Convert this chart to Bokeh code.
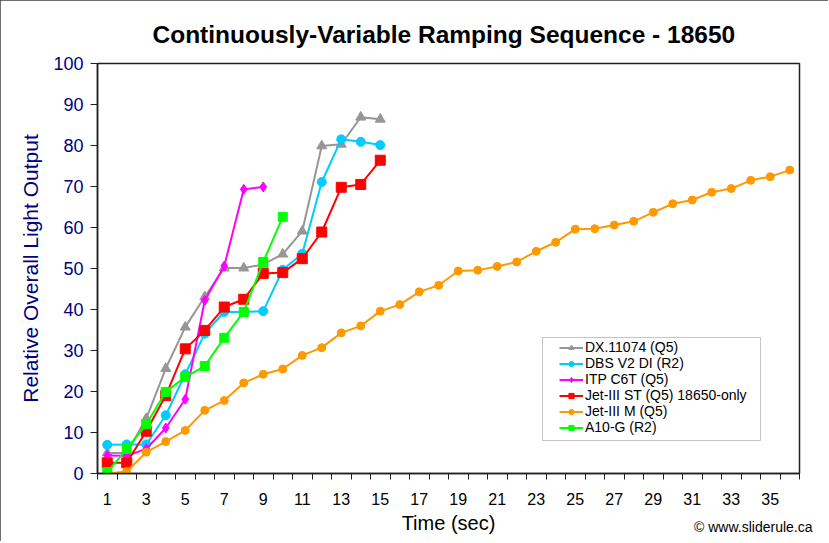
from bokeh.plotting import figure
from bokeh.models import Range1d, FixedTicker, Legend, LegendItem, BoxAnnotation, Title
from bokeh.embed import file_html
from bokeh.resources import INLINE

# ---- data ----
t_short = list(range(1, 16))
dx11074 = [5.0, 5.0, 13.4, 25.6, 35.7, 43.1, 50.1, 50.1, 51.0, 53.5, 59.1, 79.9, 80.3, 86.9, 86.4]
dbs_v2 = [7.0, 7.1, 7.1, 14.2, 24.2, 34.1, 39.4, 39.4, 39.6, 49.7, 53.6, 71.1, 81.5, 80.9, 80.1]
t_itp = list(range(1, 10))
itp_c6t = [4.4, 4.3, 6.0, 11.1, 18.1, 42.2, 50.6, 69.3, 69.9]
jet3_st = [2.6, 2.6, 10.3, 19.0, 30.4, 34.9, 40.6, 42.5, 48.8, 49.0, 52.4, 58.9, 69.8, 70.5, 76.4]
t_m = list(range(1, 37))
jet3_m = [0.0, 0.5, 5.2, 7.8, 10.5, 15.4, 17.8, 22.1, 24.2, 25.5, 28.8, 30.7, 34.3, 36.0, 39.6,
          41.2, 44.3, 45.9, 49.4, 49.6, 50.5, 51.6, 54.2, 56.4, 59.6, 59.7, 60.6, 61.5, 63.7,
          65.8, 66.7, 68.6, 69.5, 71.5, 72.4, 74.0]
t_a10 = list(range(1, 11))
a10_g = [0.3, 6.0, 12.0, 19.9, 23.5, 26.2, 33.1, 39.4, 51.6, 62.6]

x_labels = [str(i) for i in range(1, 36, 2)]
y_ticks = list(range(0, 101, 10))

series = [
    ("DX.11074 (Q5)", t_short, dx11074, "#969696", "triangle", 10),
    ("DBS V2 DI (R2)", t_short, dbs_v2, "#00CCFF", "circle", 9),
    ("ITP C6T (Q5)", t_itp, itp_c6t, "#FF00FF", "diamond", 10),
    ("Jet-III ST (Q5) 18650-only", t_short, jet3_st, "#FF0000", "square", 10),
    ("Jet-III M (Q5)", t_m, jet3_m, "#FF9900", "circle", 8),
    ("A10-G (R2)", t_a10, a10_g, "#00FF00", "square", 9),
]

FONT = "Liberation Sans"

p = figure(frame_width=702, frame_height=410, min_border_left=97, min_border_right=29,
           min_border_top=63, min_border_bottom=68,
           x_range=Range1d(0.5, 36.5), y_range=Range1d(0, 100),
           output_backend="svg", toolbar_location=None, tools="")
p.styles = {"outline": "2px solid #404040", "outline-offset": "-2px"}

p.title.text = "Continuously-Variable Ramping Sequence - 18650"
p.title.text_font = FONT
p.title.text_font_size = "24.5px"
p.title.text_font_style = "bold"
p.title.text_color = "#000000"
p.title.align = "left"
p.title.offset = 55
p.title.standoff = 32

p.xgrid.visible = False
p.ygrid.visible = False
p.outline_line_color = "#202020"
p.outline_line_width = 1.5
p.background_fill_color = "white"
p.border_fill_color = "white"

# x axis
xa = p.xaxis[0]
xa.ticker = FixedTicker(ticks=list(range(1, 36, 2)), minor_ticks=[i + 0.5 for i in range(0, 37)])
xa.major_label_overrides = {i: lab for i, lab in zip(range(1, 36, 2), x_labels)}
xa.major_tick_in = 0
xa.major_tick_out = 0
xa.minor_tick_in = 0
xa.minor_tick_out = 6
xa.minor_tick_line_color = "#202020"
xa.axis_line_color = "#202020"
xa.axis_line_width = 1.5
xa.major_label_text_font = FONT
xa.major_label_text_font_size = "16px"
xa.major_label_text_color = "#000000"
xa.major_label_standoff = 13
xa.axis_label = "Time (sec)"
xa.axis_label_text_font = FONT
xa.axis_label_text_font_size = "20px"
xa.axis_label_text_font_style = "normal"
xa.axis_label_text_color = "#000000"
xa.axis_label_standoff = 4

# y axis
ya = p.yaxis[0]
ya.ticker = FixedTicker(ticks=y_ticks)
ya.minor_tick_line_color = None
ya.major_tick_in = 0
ya.major_tick_out = 7
ya.major_tick_line_color = "#202020"
ya.axis_line_color = "#202020"
ya.axis_line_width = 1.5
ya.major_label_text_font = FONT
ya.major_label_text_font_size = "18px"
ya.major_label_text_color = "#000080"
ya.major_label_standoff = 7
ya.axis_label = "Relative Overall Light Output"
ya.axis_label_text_font = FONT
ya.axis_label_text_font_size = "21px"
ya.axis_label_text_font_style = "normal"
ya.axis_label_text_color = "#000080"
ya.axis_label_standoff = 8

items = []
for name, xs, ys, color, marker, size in series:
    ln = p.line(xs, ys, line_color=color, line_width=2)
    sc = p.scatter(xs, ys, marker=marker, size=size, fill_color=color, line_color=color)
    items.append(LegendItem(label=name, renderers=[ln, sc]))

box = BoxAnnotation(left=445, right=663, bottom=33, top=136,
                    left_units="screen", right_units="screen",
                    bottom_units="screen", top_units="screen",
                    fill_color="white", fill_alpha=1.0,
                    line_color="#404040", line_width=1)
p.add_layout(box)

legend = Legend(items=items, location=(462, 38), padding=0, spacing=0, margin=0,
                label_text_font=FONT, label_text_font_size="14px", label_text_color="#000000",
                label_height=13, glyph_height=13, glyph_width=24, label_standoff=2,
                border_line_alpha=0, background_fill_alpha=0)
p.add_layout(legend, "center")

copyright = Title(text="© www.sliderule.ca", text_font=FONT, text_font_size="14px",
                  text_font_style="normal", text_color="#000000", align="right",
                  offset=-13, standoff=-36, vertical_align="top")
p.add_layout(copyright, "below")

open("out.html", "w").write(file_html(p, INLINE))
